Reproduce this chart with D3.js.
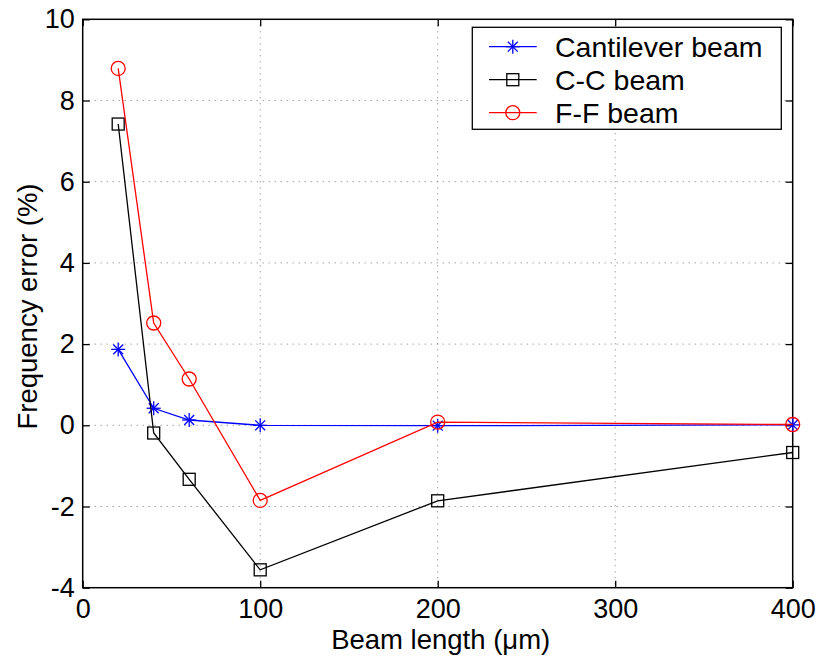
<!DOCTYPE html>
<html>
<head>
<meta charset="utf-8">
<script src="https://cdn.jsdelivr.net/npm/d3@7"></script>
<style>
  body { margin: 0; background: #fff; }
  text { font-family: "Liberation Sans", Arial, sans-serif; fill: #000; }
</style>
</head>
<body>
<div id="chart"></div>
<script>
// beam lengths (um) and frequency errors (%)
const beamLength = [20, 40, 60, 100, 200, 400];
const cantilever = [1.87, 0.42, 0.13, 0.0, -0.01, 0.01];
const ccBeam = [7.42, -0.19, -1.33, -3.56, -1.86, -0.67];
const ffBeam = [8.79, 2.52, 1.14, -1.85, 0.08, 0.02];
const xTicks = [0, 100, 200, 300, 400];
const yTicks = [-4, -2, 0, 2, 4, 6, 8, 10];

const series = [
  { name: 'Cantilever beam', values: cantilever, color: '#0000ff', marker: 'star' },
  { name: 'C-C beam', values: ccBeam, color: '#000000', marker: 'square' },
  { name: 'F-F beam', values: ffBeam, color: '#ff0000', marker: 'circle' }
];

const W = 821, H = 658;
const margin = { top: 19.3, right: 28.3, bottom: 70.3, left: 82.7 };
const width = W - margin.left - margin.right;
const height = H - margin.top - margin.bottom;

const svg = d3.select('#chart').append('svg')
  .attr('width', W).attr('height', H);

const chart = svg.append('g')
  .attr('transform', `translate(${margin.left},${margin.top})`);

const x = d3.scaleLinear().domain([0, 400]).range([0, width]);
const y = d3.scaleLinear().domain([-4, 10]).range([height, 0]);

// grid
chart.append('g').selectAll('line')
  .data(xTicks.slice(1, -1)).join('line')
  .attr('x1', d => x(d)).attr('x2', d => x(d))
  .attr('y1', 0).attr('y2', height)
  .attr('stroke', '#777').attr('stroke-width', 1)
  .attr('stroke-dasharray', '1,5');

chart.append('g').selectAll('line')
  .data(yTicks.slice(1, -1)).join('line')
  .attr('x1', 0).attr('x2', width)
  .attr('y1', d => y(d)).attr('y2', d => y(d))
  .attr('stroke', '#777').attr('stroke-width', 1)
  .attr('stroke-dasharray', '1,5');

// axes with inward ticks (plain hyphen for negatives, as in the original)
const fmt = d => String(d);
const tickLen = 7;
const xAxisG = chart.append('g')
  .attr('transform', `translate(0,${height})`)
  .call(d3.axisBottom(x).tickValues(xTicks).tickFormat(fmt)
    .tickSizeInner(-tickLen).tickSizeOuter(0).tickPadding(11));
const yAxisG = chart.append('g')
  .call(d3.axisLeft(y).tickValues(yTicks).tickFormat(fmt)
    .tickSizeInner(-tickLen).tickSizeOuter(0).tickPadding(8));
chart.append('g')
  .call(d3.axisTop(x).tickValues(xTicks).tickSizeInner(-tickLen).tickSizeOuter(0).tickFormat(''));
chart.append('g')
  .attr('transform', `translate(${width},0)`)
  .call(d3.axisRight(y).tickValues(yTicks).tickSizeInner(-tickLen).tickSizeOuter(0).tickFormat(''));

chart.selectAll('.domain').remove();
chart.selectAll('.tick line').attr('stroke', '#000').attr('stroke-width', 1.3);
[xAxisG, yAxisG].forEach(g => g.selectAll('text')
  .attr('font-size', 27)
  .style('font-family', '"Liberation Sans", Arial, sans-serif'));

// frame
chart.append('rect')
  .attr('width', width).attr('height', height)
  .attr('fill', 'none').attr('stroke', '#000').attr('stroke-width', 1.5);

// marker drawing
function drawMarker(g, type, color) {
  if (type === 'star') {
    const r = 7;
    [0, 45, 90, 135].forEach(a => {
      const rad = a * Math.PI / 180;
      g.append('line')
        .attr('x1', -r * Math.cos(rad)).attr('y1', -r * Math.sin(rad))
        .attr('x2', r * Math.cos(rad)).attr('y2', r * Math.sin(rad))
        .attr('stroke', color).attr('stroke-width', 1.3);
    });
  } else if (type === 'square') {
    g.append('rect')
      .attr('x', -6).attr('y', -6).attr('width', 12).attr('height', 12)
      .attr('fill', 'none').attr('stroke', color).attr('stroke-width', 1.3);
  } else {
    g.append('circle')
      .attr('r', 7).attr('fill', 'none')
      .attr('stroke', color).attr('stroke-width', 1.3);
  }
}

const line = d3.line()
  .x((d, i) => x(beamLength[i]))
  .y(d => y(d));

series.forEach(s => {
  chart.append('path')
    .attr('d', line(s.values))
    .attr('fill', 'none')
    .attr('stroke', s.color)
    .attr('stroke-width', 1.3);
  s.values.forEach((v, i) => {
    const g = chart.append('g')
      .attr('transform', `translate(${x(beamLength[i])},${y(v)})`);
    drawMarker(g, s.marker, s.color);
  });
});

// legend
const legend = svg.append('g').attr('transform', 'translate(472.3,27.3)');
legend.append('rect')
  .attr('width', 309).attr('height', 102)
  .attr('fill', '#fff').attr('stroke', '#000').attr('stroke-width', 1.3);

series.forEach((s, i) => {
  const row = legend.append('g').attr('transform', `translate(0,${19.4 + i * 33})`);
  row.append('line')
    .attr('x1', 16.7).attr('x2', 64.4)
    .attr('stroke', s.color).attr('stroke-width', 1.3);
  drawMarker(row.append('g').attr('transform', 'translate(40.5,0)'), s.marker, s.color);
  row.append('text')
    .attr('x', 82.7).attr('dy', '0.36em')
    .attr('font-size', 28.5)
    .text(s.name);
});

// axis titles
svg.append('text')
  .attr('x', margin.left + width / 2 + 3).attr('y', 649)
  .attr('text-anchor', 'middle')
  .attr('font-size', 27.5)
  .text('Beam length (\u03bcm)');

svg.append('text')
  .attr('transform', `translate(37,${margin.top + height / 2 + 3}) rotate(-90)`)
  .attr('text-anchor', 'middle')
  .attr('font-size', 27.5)
  .text('Frequency error (%)');
</script>
</body>
</html>
